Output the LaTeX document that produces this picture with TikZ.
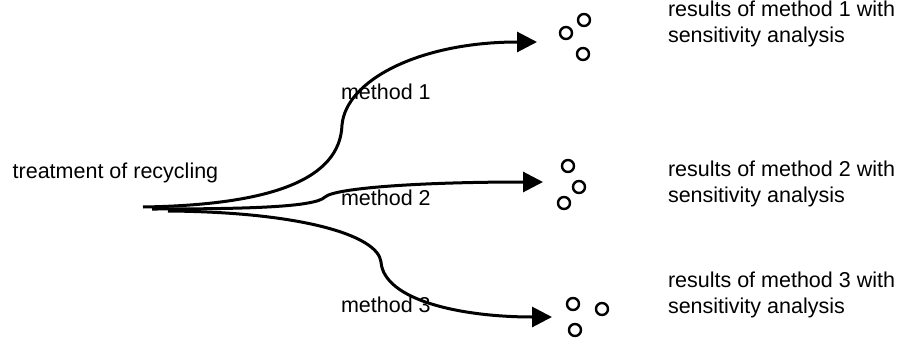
\documentclass[tikz,border=0pt]{standalone}
\usepackage{fontspec}
\setmainfont{Liberation Sans}
\usetikzlibrary{arrows.meta}
\begin{document}
\begin{tikzpicture}[x=1pt,y=-1pt,
  every node/.style={inner sep=0pt,outer sep=0pt,font=\fontsize{21.5}{26}\selectfont},
  lbl/.style={anchor=base west},
  branch/.style={line width=3pt,-{Triangle[length=20pt,width=20pt]}},
  dot/.style={draw,line width=2.4pt,circle,minimum size=12pt}]
\useasboundingbox (0,0) rectangle (901,345);

% source label and branch start points
\node[lbl] (src) at (12.7,178) {treatment of recycling};
\coordinate (s1) at (143,207);
\coordinate (s2) at (152,209);
\coordinate (s3) at (168,211);

% arrow tips
\coordinate (e1) at (537,42);
\coordinate (e2) at (543,182);
\coordinate (e3) at (552,317);

% method labels
\node[lbl] (m1) at (341,99) {method 1};
\node[lbl] (m2) at (341,205) {method 2};
\node[lbl] (m3) at (341,312) {method 3};

% result clusters
\node[dot] (c11) at (566,33) {};
\node[dot] (c12) at (584,20) {};
\node[dot] (c13) at (583,54) {};
\node[dot] (c21) at (568,166) {};
\node[dot] (c22) at (579,187) {};
\node[dot] (c23) at (564,203) {};
\node[dot] (c31) at (573,304) {};
\node[dot] (c32) at (602,309) {};
\node[dot] (c33) at (575,330) {};

% result descriptions
\node[lbl] (r1) at (668,17) {\begin{tabular}[t]{@{}l@{}}results of method 1 with\\sensitivity analysis\end{tabular}};
\node[lbl] (r2) at (668,176) {\begin{tabular}[t]{@{}l@{}}results of method 2 with\\sensitivity analysis\end{tabular}};
\node[lbl] (r3) at (668,287) {\begin{tabular}[t]{@{}l@{}}results of method 3 with\\sensitivity analysis\end{tabular}};

% branches
\draw[branch] (s1) .. controls (270,205) and (340,180) .. (342,125)
  .. controls (346,80) and (420,42) .. (e1);
\draw[branch] (s2) .. controls (250,209) and (315,207) .. (325,197)
  .. controls (335,188) and (420,182) .. (e2);
\draw[branch] (s3) .. controls (300,212) and (378,235) .. (381,262)
  .. controls (384,300) and (460,317) .. (e3);
\end{tikzpicture}
\end{document}
